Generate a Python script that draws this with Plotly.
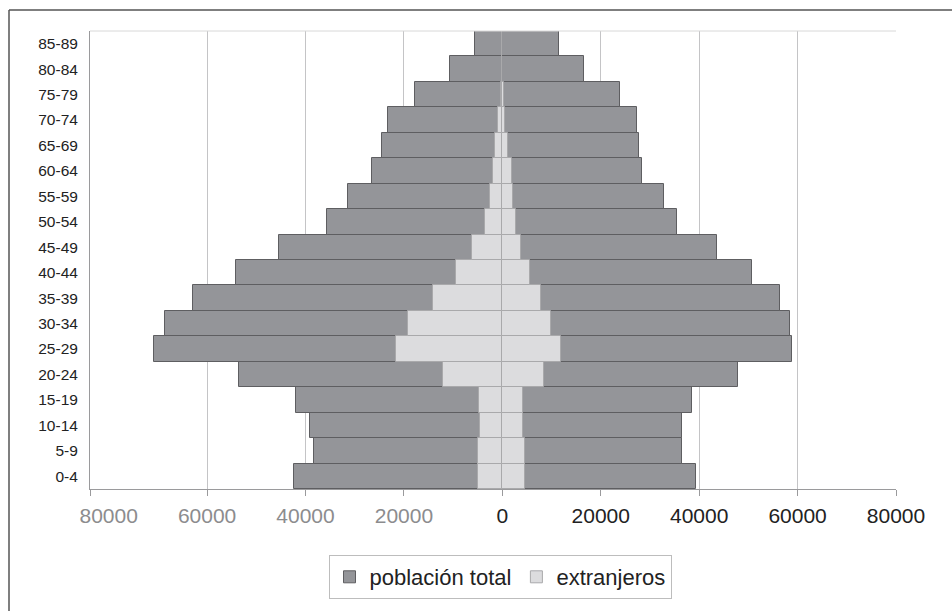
import plotly.graph_objects as go

# Age groups (bottom to top)
age_groups = ["0-4", "5-9", "10-14", "15-19", "20-24", "25-29", "30-34", "35-39",
              "40-44", "45-49", "50-54", "55-59", "60-64", "65-69", "70-74",
              "75-79", "80-84", "85-89"]

# Left side (shown as negative) – total population
total_left = [42250, 38330, 39030, 41950, 53620, 70820, 68510, 62770,
              54220, 45370, 35710, 31390, 26460, 24550, 23140, 17810, 10560, 5630]
# Right side – total population
total_right = [39330, 36420, 36420, 38630, 47990, 58850, 58550, 56340,
               50700, 43660, 35410, 32800, 28470, 27870, 27460, 23840, 16500, 11570]
# Left side – foreigners
foreign_left = [4880, 4880, 4600, 4800, 12070, 21530, 19110, 14180,
                9460, 6240, 3620, 2570, 1960, 1560, 960, 300, 0, 0]
# Right side – foreigners
foreign_right = [4680, 4680, 4280, 4280, 8550, 11970, 9960, 7950,
                 5630, 3870, 2720, 2210, 2010, 1210, 600, 250, 0, 0]

x_min = -83800
x_max = 80000
label_vals = [-80000, -60000, -40000, -20000, 0, 20000, 40000, 60000, 80000]
grid_vals = [x_min, -60000, -40000, -20000, 0, 20000, 40000, 60000, 80000]

GRAY_LBL = "#8c8c8e"
DARK_LBL = "#222222"
label_text = []
for v in label_vals:
    col = GRAY_LBL if v < 0 else DARK_LBL
    label_text.append(f"<span style='color:{col}'>{abs(v)}</span>")

TOTAL_FILL = "#949599"
TOTAL_LINE = "#5e5e61"
FOR_FILL = "#dcdcde"
FOR_LINE = "#a9a9ab"

fig = go.Figure()
fig.add_trace(go.Bar(y=age_groups, x=[-v for v in total_left], orientation="h",
                     name="población total", legendgroup="t", showlegend=True,
                     marker=dict(color=TOTAL_FILL, line=dict(color=TOTAL_LINE, width=1)),
                     xaxis="x", yaxis="y"))
fig.add_trace(go.Bar(y=age_groups, x=total_right, orientation="h",
                     name="población total", legendgroup="t", showlegend=False,
                     marker=dict(color=TOTAL_FILL, line=dict(color=TOTAL_LINE, width=1)),
                     xaxis="x", yaxis="y"))
fig.add_trace(go.Bar(y=age_groups, x=[-v for v in foreign_left], orientation="h",
                     name="extranjeros", legendgroup="f", showlegend=True,
                     marker=dict(color=FOR_FILL, line=dict(color=FOR_LINE, width=1)),
                     xaxis="x2", yaxis="y"))
fig.add_trace(go.Bar(y=age_groups, x=foreign_right, orientation="h",
                     name="extranjeros", legendgroup="f", showlegend=False,
                     marker=dict(color=FOR_FILL, line=dict(color=FOR_LINE, width=1)),
                     xaxis="x2", yaxis="y"))

W, H = 952, 611
L, R, T, B = 90, 952 - 896, 31, 611 - 489
pw, ph = W - L - R, H - T - B

fig.update_layout(
    width=W, height=H,
    margin=dict(l=L, r=R, t=T, b=B),
    paper_bgcolor="white", plot_bgcolor="white",
    barmode="overlay", bargap=0,
    font=dict(family="Liberation Sans, Arial, sans-serif", color=DARK_LBL),
    xaxis=dict(range=[x_min, x_max], tickmode="array", tickvals=grid_vals,
               showticklabels=False, showgrid=True, gridcolor="#c4c4c6", gridwidth=1,
               zeroline=False, showline=True, linecolor="#9a9a9c", linewidth=1,
               ticks="outside", ticklen=6, tickcolor="#9a9a9c", tickwidth=1),
    xaxis2=dict(range=[x_min, x_max], overlaying="x", anchor="y", side="bottom",
                tickmode="array", tickvals=label_vals, ticktext=label_text,
                showgrid=False, zeroline=False, showline=False, ticks="",
                tickfont=dict(size=21, color=DARK_LBL), ticklabelstandoff=12),
    yaxis=dict(type="category", categoryorder="array", categoryarray=age_groups,
               showgrid=False, zeroline=False, showline=True, linecolor="#9a9a9c",
               linewidth=1, ticks="", tickfont=dict(size=15.5, color=DARK_LBL),
               ticklabelstandoff=8),
    legend=dict(orientation="h", x=(500 - L) / pw, xanchor="center",
                y=(489 - 555) / ph, yanchor="top",
                bordercolor="#bdbdbd", borderwidth=1, bgcolor="white",
                font=dict(size=22, color=DARK_LBL), traceorder="normal",
                itemwidth=30, tracegroupgap=0),
    shapes=[
        dict(type="line", xref="paper", yref="paper", x0=0, x1=1, y0=1, y1=1,
             line=dict(color="#d8d8d8", width=1)),
        dict(type="line", xref="paper", yref="paper",
             x0=(9 - L) / pw, x1=(9 - L) / pw, y0=1 + (T - 10) / ph, y1=-1,
             line=dict(color="#555555", width=1.5)),
        dict(type="line", xref="paper", yref="paper",
             x0=(9 - L) / pw, x1=2, y0=1 + (T - 10) / ph, y1=1 + (T - 10) / ph,
             line=dict(color="#555555", width=1.5)),
    ],
)

fig.write_html("out.html", config={"displayModeBar": False},
               post_script="document.body.style.margin='0';document.body.style.padding='0';")
